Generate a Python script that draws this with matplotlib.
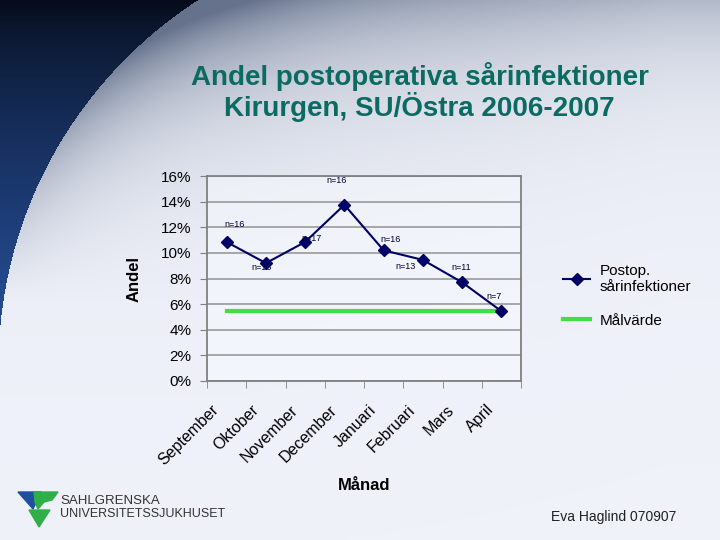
import numpy as np
import matplotlib
matplotlib.use("Agg")
import matplotlib.pyplot as plt
from matplotlib.patches import Polygon
from matplotlib.transforms import ScaledTranslation

plt.rcParams['font.family'] = ['Liberation Sans', 'DejaVu Sans']

# ---- data ----
months = ["September", "Oktober", "November", "December",
          "Januari", "Februari", "Mars", "April"]
postop = [10.85, 9.2, 10.85, 13.75, 10.2, 9.45, 7.7, 5.45]
target = [5.45] * len(months)
n_labels = ["n=16", "n=16", "n=17", "n=16", "n=16", "n=13", "n=11", "n=7"]
yticks = [0, 2, 4, 6, 8, 10, 12, 14, 16]

# label offsets in pixels (dx, dy)
label_offsets = [(8, 17), (-4, -4), (6, 3), (-8, 24), (7, 11), (-17, -7), (-1, 15), (-7, 15)]

W, H = 720, 540
fig = plt.figure(figsize=(7.2, 5.4), dpi=100)

# ---- background (slide decoration) ----
yy, xx = np.mgrid[0:H, 0:W].astype(float)
a, b, r = 434.0, 366.0, 436.0
dist = np.sqrt((xx - a) ** 2 + (yy - b) ** 2)
dark = (xx < a) & (yy < b) & (dist > r)
white = np.array([0.94, 0.95, 0.98])
gray = np.array([0.40, 0.45, 0.55])
d_in = np.where(xx < a, r - dist, r - (b - yy))
d_in = np.where(yy < b, d_in, 1e4)
f_edge = np.exp(-np.clip(d_in, 0, None) / 60.0) * np.clip(1 - yy / 300.0, 0, 1)
f_top = 0.5 * np.exp(-yy / 100.0) * np.clip(1.0 - (xx - 250) / 700.0, 0.4, 1)
f = np.clip(f_edge * 0.8 + f_top, 0, 1)[..., None]
light = white * (1 - f) + gray * f
t = np.clip(yy / 300.0, 0, 1)[..., None] ** 0.7
d0 = np.array([0.02, 0.04, 0.09])
d1 = np.array([0.14, 0.29, 0.56])
dk = d0 * (1 - t) + d1 * t
bg = np.where(dark[..., None], dk, light)

bgax = fig.add_axes([0, 0, 1, 1], zorder=-10)
bgax.imshow(bg, extent=[0, W, H, 0], aspect='auto', interpolation='bilinear')
bgax.set_xlim(0, W)
bgax.set_ylim(H, 0)
bgax.axis('off')

# logo shapes
bgax.add_patch(Polygon([(18, 492), (41, 492), (33, 509)], closed=True, color='#1f4fa0'))
bgax.add_patch(Polygon([(34, 492), (58, 492), (52, 500), (44, 502), (38, 509), (35, 502)],
                       closed=True, color='#2fae4a'))
bgax.add_patch(Polygon([(29, 510), (50, 510), (39, 527)], closed=True, color='#2fae4a'))
bgax.text(60, 501, "SAHLGRENSKA", fontsize=9.5, color='#333333', va='center', ha='left')
bgax.text(60, 514, "UNIVERSITETSSJUKHUSET", fontsize=9, color='#333333', va='center', ha='left')

# ---- title ----
fig.text(0.583, 1 - 92 / H, "Andel postoperativa sårinfektioner\nKirurgen, SU/Östra 2006-2007",
         ha='center', va='center', fontsize=20, fontweight='bold', color='#0B6B62',
         linespacing=1.08)

# ---- main chart ----
ax = fig.add_axes([207 / W, 1 - 381 / H, (521 - 207) / W, (381 - 176) / H])
ax.set_facecolor((0.97, 0.98, 1.0, 0.5))
x = np.arange(len(months))
l1, = ax.plot(x, postop, color='#000066', lw=1.5, marker='D', markersize=6,
              markerfacecolor='#000066', markeredgecolor='#000066',
              label="Postop.\nsårinfektioner", zorder=4)
l2, = ax.plot(x, target, color='#3ee23e', lw=3, label="Målvärde", zorder=3)

for xi, yi, lab, (dx, dy) in zip(x, postop, n_labels, label_offsets):
    ax.annotate(lab, (xi, yi), xytext=(dx, dy), textcoords='offset pixels',
                ha='center', va='center', fontsize=6.5, color='#000033', zorder=5)

ax.set_xlim(-0.5, len(months) - 0.5)
ax.set_ylim(0, 16)
ax.set_yticks(yticks)
ax.set_yticklabels([f"{v}%" for v in yticks], fontsize=11)
ax.yaxis.grid(True, color='#9a9a9a', lw=1.2)
ax.set_axisbelow(True)
ax.set_xticks(x)
ax.set_xticks(np.arange(-0.5, len(months) + 0.5, 1), minor=True)
ax.tick_params(axis='x', which='major', length=0, pad=19)
ax.tick_params(axis='x', which='minor', length=5, color='#808080')
ax.tick_params(axis='y', length=5, color='#808080', pad=6)
ax.set_xticklabels(months, rotation=45, ha='right', va='center', rotation_mode='anchor',
                   fontsize=11.5)
shift = ScaledTranslation(-10 / 100, 0, fig.dpi_scale_trans)
for lbl in ax.get_xticklabels():
    lbl.set_transform(lbl.get_transform() + shift)
for s in ax.spines.values():
    s.set_color('#808080')
    s.set_linewidth(1.3)

ax.set_ylabel("Andel", fontsize=12, fontweight='bold', labelpad=14)
fig.text(364 / W, 1 - 486 / H, "Månad", ha='center', va='center', fontsize=12, fontweight='bold')

fig.legend(handles=[l1, l2], loc='upper left', bbox_to_anchor=(549 / W, 1 - 250 / H),
           frameon=False, fontsize=11, handlelength=1.8, handletextpad=0.6,
           labelspacing=1.3)

fig.text(614 / W, 1 - 517 / H, "Eva Haglind 070907", ha='center', va='center',
         fontsize=10, color='#202020')

fig.savefig("out.png", dpi=100)
